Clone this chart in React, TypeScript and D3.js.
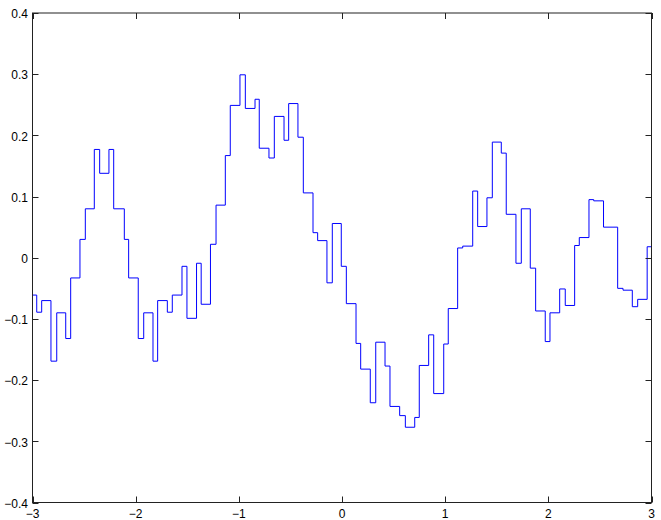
import React from "react";
import * as d3 from "d3";

const stepX = [
  -3.0, -2.959, -2.911, -2.821, -2.765, -2.678, -2.63, -2.54, -2.488, -2.401,
  -2.349, -2.259, -2.213, -2.11, -2.068, -1.975, -1.922, -1.832, -1.787, -1.693,
  -1.645, -1.551, -1.503, -1.41, -1.365, -1.275, -1.221, -1.131, -1.083, -0.989,
  -0.937, -0.843, -0.802, -0.708, -0.656, -0.562, -0.517, -0.427, -0.375, -0.281,
  -0.236, -0.146, -0.094, -0.007, 0.042, 0.136, 0.181, 0.274, 0.327, 0.417,
  0.465, 0.559, 0.614, 0.705, 0.749, 0.84, 0.889, 0.986, 1.03, 1.121,
  1.17, 1.267, 1.315, 1.405, 1.457, 1.544, 1.592, 1.686, 1.738, 1.825,
  1.877, 1.97, 2.016, 2.11, 2.164, 2.255, 2.3, 2.394, 2.44, 2.535,
  2.672, 2.724, 2.814, 2.866, 2.958,
];

const stepY = [
  -0.061, -0.089, -0.07, -0.169, -0.09, -0.132, -0.033, 0.03, 0.08, 0.177,
  0.138, 0.177, 0.08, 0.03, -0.033, -0.132, -0.09, -0.169, -0.07, -0.089,
  -0.061, -0.014, -0.099, -0.009, -0.076, 0.022, 0.086, 0.167, 0.249, 0.299,
  0.244, 0.259, 0.179, 0.163, 0.231, 0.192, 0.252, 0.197, 0.106, 0.041,
  0.028, -0.041, 0.056, -0.014, -0.075, -0.14, -0.182, -0.237, -0.138, -0.177,
  -0.243, -0.258, -0.277, -0.261, -0.176, -0.126, -0.222, -0.141, -0.083, 0.016,
  0.019, 0.109, 0.051, 0.098, 0.189, 0.171, 0.071, -0.009, 0.08, -0.017,
  -0.087, -0.137, -0.09, -0.051, -0.078, 0.02, 0.033, 0.095, 0.093, 0.05,
  -0.05, -0.053, -0.08, -0.068, 0.018,
];

const xTicks = [-3, -2, -1, 0, 1, 2, 3];
const yTicks = [-0.4, -0.3, -0.2, -0.1, 0, 0.1, 0.2, 0.3, 0.4];
const xDomain: [number, number] = [-3, 3];
const yDomain: [number, number] = [-0.4, 0.4];

const W = 661;
const H = 520;
const left = 32.5;
const right = 651.5;
const top = 13;
const bottom = 502.5;

function fmt(v: number) {
  const s = Math.abs(v) < 1e-9 ? "0" : String(+v.toFixed(1));
  return s.replace("-", "\u2212");
}

export default function App() {
  const x = d3.scaleLinear().domain(xDomain).range([left, right]);
  const y = d3.scaleLinear().domain(yDomain).range([bottom, top]);

  const pts: [number, number][] = stepX.map((v, i) => [v, stepY[i]]);
  pts.push([xDomain[1], stepY[stepY.length - 1]]);

  const line = d3
    .line<[number, number]>()
    .x((d) => x(d[0]))
    .y((d) => y(d[1]))
    .curve(d3.curveStepAfter);

  const tl = 6;
  const axisColor = "#222";
  const font = "'Liberation Sans', Arial, Helvetica, sans-serif";

  return (
    <svg
      width={W}
      height={H}
      style={{ position: "absolute", left: 0, top: 0, background: "#fff" }}
      fontFamily={font}
      fontSize={12}
    >
      <rect x={0} y={0} width={W} height={H} fill="#fff" />
      <path d={line(pts) || ""} fill="none" stroke="#0000ff" strokeWidth={1} />
      <rect
        x={left}
        y={top}
        width={right - left}
        height={bottom - top}
        fill="none"
        stroke={axisColor}
        strokeWidth={1}
      />
      {xTicks.map((t) => (
        <g key={"x" + t}>
          <line x1={Math.round(x(t)) + 0.5} x2={Math.round(x(t)) + 0.5} y1={bottom} y2={bottom - tl} stroke={axisColor} />
          <line x1={Math.round(x(t)) + 0.5} x2={Math.round(x(t)) + 0.5} y1={top} y2={top + tl} stroke={axisColor} />
          <text x={x(t)} y={517.5} textAnchor="middle" fill="#000">
            {fmt(t)}
          </text>
        </g>
      ))}
      {yTicks.map((t) => (
        <g key={"y" + t}>
          <line x1={left} x2={left + tl} y1={Math.round(y(t)) + 0.5} y2={Math.round(y(t)) + 0.5} stroke={axisColor} />
          <line x1={right} x2={right - tl} y1={Math.round(y(t)) + 0.5} y2={Math.round(y(t)) + 0.5} stroke={axisColor} />
          <text x={28} y={y(t) + 1} dy="0.35em" textAnchor="end" fill="#000">
            {fmt(t)}
          </text>
        </g>
      ))}
    </svg>
  );
}
